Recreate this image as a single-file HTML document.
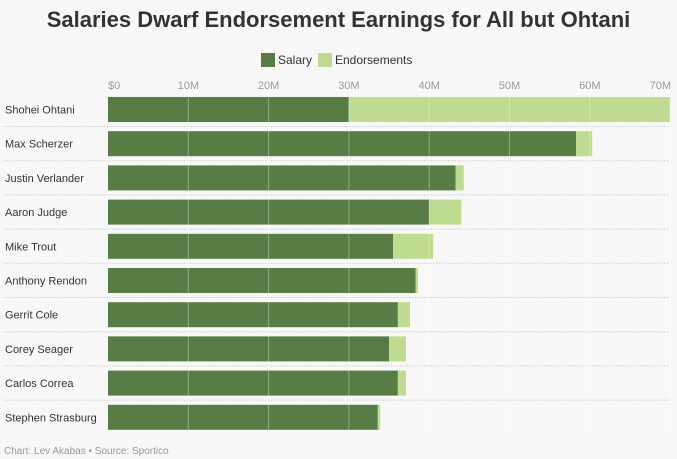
<!DOCTYPE html>
<html><head><meta charset="utf-8"><style>
body{margin:0;background:#f8f8f8;font-family:"Liberation Sans",sans-serif;}
#wrap{position:relative;width:677px;height:459px;overflow:hidden;}
h1{position:absolute;left:0;right:0;top:7px;margin:0;text-align:center;font-size:22px;font-weight:bold;color:#333;}
.leg{position:absolute;top:53px;font-size:12px;color:#333;}
.sw{display:inline-block;width:14px;height:14px;vertical-align:-3px;margin-right:3px;}
.foot{position:absolute;left:4px;top:446px;font-size:10px;color:#999;}
</style></head><body>
<div id="wrap">
<h1>Salaries Dwarf Endorsement Earnings for All but Ohtani</h1>
<div class="leg" style="left:261px"><span class="sw" style="background:#587d44"></span>Salary</div>
<div class="leg" style="left:318px"><span class="sw" style="background:#bfdb8f"></span>Endorsements</div>
<svg id="svg" width="677" height="459" style="position:absolute;left:0;top:0"></svg>
<div class="foot">Chart: Lev Akabas • Source: Sportico</div>
</div>
<script>
const players=["Shohei Ohtani","Max Scherzer","Justin Verlander","Aaron Judge","Mike Trout","Anthony Rendon","Gerrit Cole","Corey Seager","Carlos Correa","Stephen Strasburg"];
const salary=[30,58.3,43.3,40,35.5,38.3,36.1,35,36.1,33.6];
const endorse=[40,2,1,4,5,0.3,1.5,2.1,1,0.3];
const ticks=[0,10,20,30,40,50,60,70];
const tickLabels=["$0","10M","20M","30M","40M","50M","60M","70M"];
const svg=document.getElementById('svg');const NS="http://www.w3.org/2000/svg";
const x0=108,ppm=8.03,y0=97,step=34.2,bh=25;
const X=v=>x0+v*ppm;
function mk(t,a){const e=document.createElementNS(NS,t);for(const k in a)e.setAttribute(k,a[k]);svg.appendChild(e);return e;}
players.forEach((p,i)=>{
 const y=y0+i*step;
 let r=mk('rect',{x:X(0),y:y,width:salary[i]*ppm,height:bh,fill:'#587d44'});
 
 
 r=mk('rect',{x:X(salary[i]),y:y,width:endorse[i]*ppm,height:bh,fill:'#bfdb8f'});
 
 
 const t=mk('text',{x:5,y:y+bh/2+4,'font-size':11,fill:'#333'});t.textContent=p;
 
 
 if(i<players.length-1){const l=mk('line',{x1:4,x2:670,y1:y+bh+4.5,y2:y+bh+4.5,stroke:'#ccc','stroke-dasharray':'1.5,1.5'});
 
 }
});
ticks.forEach((v,i)=>{
 if(v>0){const l=mk('line',{x1:X(v),x2:X(v),y1:y0,y2:y0+9*step+bh,stroke:'rgba(255,255,255,0.35)'});
 
 }
 const anchor=i==0?'start':(i==ticks.length-1?'end':'middle');
 const tx=i==ticks.length-1?671:X(v);
 const t=mk('text',{x:tx,y:89,'font-size':11,fill:'#999','text-anchor':anchor});t.textContent=tickLabels[i];
 
 
});
</script></body></html>
